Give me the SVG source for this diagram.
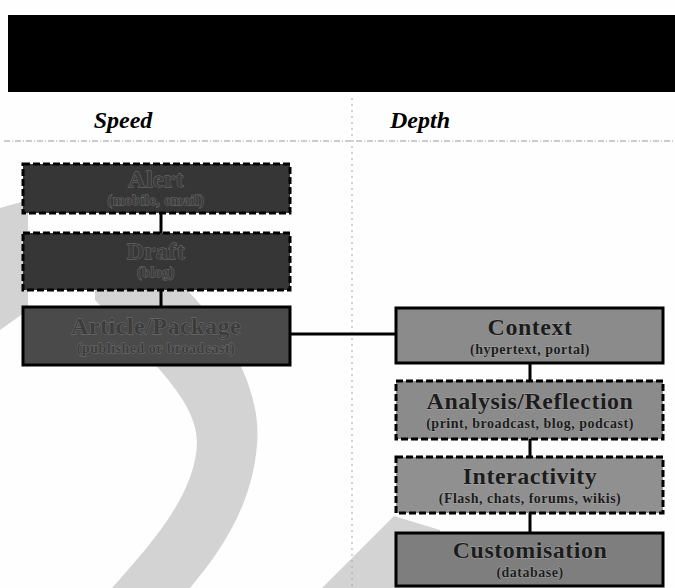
<svg xmlns="http://www.w3.org/2000/svg" width="675" height="588" viewBox="0 0 675 588">
<style>
.box{stroke:#000;stroke-width:3}
.dash{stroke-dasharray:7 3}
.dark{fill:#363636}
.mid{fill:#4a4a4a}
.light{fill:#8b8b8b}
.t{font-family:"Liberation Serif","Times New Roman",serif;font-weight:bold;text-anchor:middle;fill:#1c1c1c;stroke:#a8a8a8;stroke-width:0.8;paint-order:stroke}
.dk .t{fill:#3c3c3c;stroke:#777;stroke-width:0.8}
.title{font-size:24px;letter-spacing:0.5px}
.sub{font-size:14px;letter-spacing:0.5px}
.head{font-family:"Liberation Serif","Times New Roman",serif;font-weight:bold;font-style:italic;font-size:24px;text-anchor:middle;fill:#000}
.conn{stroke:#000;stroke-width:3;fill:none}
.wm{fill:#d3d3d3}
</style>
<rect width="675" height="588" fill="#fefefe"/>
<g id="watermark">
<polygon class="wm" points="0,208 28,200 28,310 0,330"/>
<path class="wm" d="M95,285 L182,285 C228,330 262,390 257,445 C252,505 222,550 190,588 L112,588 C150,545 196,495 197,442 C197,400 150,360 95,300 Z"/>
<polygon class="wm" points="322,588 394,516 440,530 440,588"/>
</g>
<g id="header">
<rect x="8" y="15" width="667" height="77" fill="#000"/>
<line x1="4" y1="141" x2="675" y2="141" stroke="#9a9a9a" stroke-width="1" stroke-dasharray="6 2 1 2"/>
<line x1="352" y1="98" x2="352" y2="588" stroke="#a8a8a8" stroke-width="1" stroke-dasharray="2 4"/>
<text class="head" x="123" y="128">Speed</text>
<text class="head" x="420" y="128">Depth</text>
</g>
<g id="connectors">
<line class="conn" x1="161" y1="213" x2="161" y2="233"/>
<line class="conn" x1="161" y1="290" x2="161" y2="307"/>
<line class="conn" x1="290" y1="334" x2="396" y2="334"/>
<line class="conn" x1="530" y1="363" x2="530" y2="381"/>
<line class="conn" x1="530" y1="439" x2="530" y2="457"/>
<line class="conn" x1="530" y1="513" x2="530" y2="533"/>
</g>
<g id="alert" class="dk">
<rect class="box dash dark" x="23" y="164" width="267" height="49"/>
<text class="t title" x="156" y="187">Alert</text>
<text class="t sub" x="156" y="205">(mobile, email)</text>
</g>
<g id="draft" class="dk">
<rect class="box dash dark" x="23" y="233" width="267" height="57"/>
<text class="t title" x="156" y="259">Draft</text>
<text class="t sub" x="156" y="277">(blog)</text>
</g>
<g id="article" class="dk">
<rect class="box mid" x="23" y="307" width="267" height="58"/>
<text class="t title" x="156" y="334">Article/Package</text>
<text class="t sub" x="156" y="353">(published or broadcast)</text>
</g>
<g id="context">
<rect class="box light" x="396" y="308" width="267" height="55"/>
<text class="t title" x="530" y="335">Context</text>
<text class="t sub" x="530" y="354">(hypertext, portal)</text>
</g>
<g id="analysis">
<rect class="box dash light" x="396" y="381" width="267" height="58"/>
<text class="t title" x="530" y="409">Analysis/Reflection</text>
<text class="t sub" x="530" y="428">(print, broadcast, blog, podcast)</text>
</g>
<g id="interactivity">
<rect class="box dash light" x="396" y="457" width="267" height="56" style="fill:#909090"/>
<text class="t title" x="530" y="484">Interactivity</text>
<text class="t sub" x="530" y="503">(Flash, chats, forums, wikis)</text>
</g>
<g id="customisation">
<rect class="box light" x="396" y="533" width="267" height="53" style="fill:#7e7e7e"/>
<text class="t title" x="530" y="558">Customisation</text>
<text class="t sub" x="530" y="577">(database)</text>
</g>
</svg>
